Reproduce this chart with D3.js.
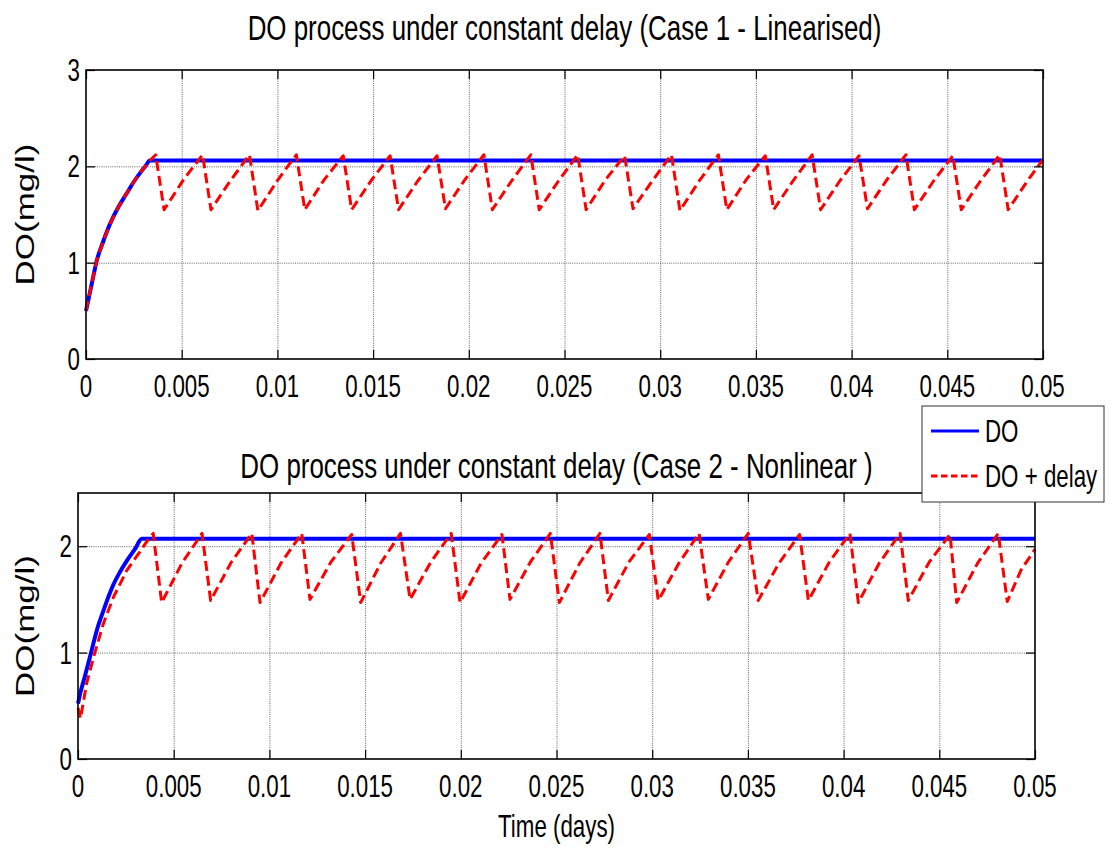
<!DOCTYPE html>
<html>
<head>
<meta charset="utf-8">
<script src="https://cdn.jsdelivr.net/npm/d3@7"></script>
<style>
  body { margin: 0; background: #fff; }
  text { font-family: "Liberation Sans", Arial, sans-serif; fill: #000; }
</style>
</head>
<body>
<div id="chart"></div>
<script>
// tick values and labels
const xTicks = [0, 0.005, 0.01, 0.015, 0.02, 0.025, 0.03, 0.035, 0.04, 0.045, 0.05];
const xTickLabels = ["0", "0.005", "0.01", "0.015", "0.02", "0.025", "0.03", "0.035", "0.04", "0.045", "0.05"];
const yTicks1 = [0, 1, 2, 3];
const yTickLabels1 = ["0", "1", "2", "3"];
const yTicks2 = [0, 1, 2];
const yTickLabels2 = ["0", "1", "2"];
const seriesNames = ["DO", "DO + delay"];
const titles = ["DO process under constant delay (Case 1 - Linearised)",
                "DO process under constant delay (Case 2 - Nonlinear )"];

// Case 1 - DO (blue)
const doTime1 = [0, 0.0003, 0.00056, 0.0009, 0.00125, 0.0017, 0.00213, 0.0025, 0.00282, 0.0031, 0.00334, 0.05];
const doValue1 = [0.5, 0.78, 1.02, 1.22, 1.40, 1.58, 1.72, 1.84, 1.93, 2.0, 2.06, 2.06];

// Case 1 - DO + delay (red): ramp, then peak / trough / mid-rise per cycle
const delayTime1 = [0, 0.0003, 0.00056, 0.0009, 0.00125, 0.0017, 0.00213, 0.0025, 0.00282, 0.0031, 0.00334,
  0.00364, 0.00408, 0.00509,
  0.00609, 0.00653, 0.00754,
  0.00854, 0.00898, 0.00999,
  0.01099, 0.01143, 0.01244,
  0.01344, 0.01388, 0.01489,
  0.01589, 0.01633, 0.01734,
  0.01834, 0.01878, 0.01979,
  0.02079, 0.02123, 0.02224,
  0.02324, 0.02368, 0.02469,
  0.02569, 0.02613, 0.02714,
  0.02814, 0.02858, 0.02959,
  0.03059, 0.03103, 0.03204,
  0.03304, 0.03348, 0.03449,
  0.03549, 0.03593, 0.03694,
  0.03794, 0.03838, 0.03939,
  0.04039, 0.04083, 0.04184,
  0.04284, 0.04328, 0.04429,
  0.04529, 0.04573, 0.04674,
  0.04774, 0.04818, 0.04919, 0.05];
const delayValue1 = [0.5, 0.78, 1.02, 1.22, 1.40, 1.58, 1.72, 1.84, 1.93, 2.0, 2.06,
  2.12, 1.55, 1.86,
  2.12, 1.55, 1.85,
  2.12, 1.54, 1.85,
  2.12, 1.55, 1.86,
  2.11, 1.55, 1.85,
  2.11, 1.55, 1.85,
  2.11, 1.56, 1.86,
  2.12, 1.55, 1.85,
  2.12, 1.55, 1.85,
  2.12, 1.55, 1.86,
  2.11, 1.56, 1.85,
  2.12, 1.54, 1.85,
  2.12, 1.55, 1.86,
  2.11, 1.55, 1.85,
  2.12, 1.55, 1.85,
  2.11, 1.56, 1.86,
  2.12, 1.55, 1.85,
  2.11, 1.55, 1.85,
  2.12, 1.55, 1.85, 2.07];

// Case 2 - DO (blue)
const doTime2 = [0, 0.00012, 0.00035, 0.00071, 0.001, 0.00132, 0.0016, 0.00185, 0.0022, 0.00254, 0.003, 0.00333, 0.05];
const doValue2 = [0.52, 0.62, 0.77, 1.02, 1.22, 1.39, 1.53, 1.64, 1.76, 1.86, 1.98, 2.07, 2.07];

// Case 2 - DO + delay (red)
const delayTime2 = [0, 0.00013, 0.00045, 0.00088, 0.00132, 0.00185, 0.00254, 0.00324, 0.00362,
  0.00393, 0.00437, 0.00543,
  0.00648, 0.00693, 0.00801,
  0.00908, 0.00951, 0.0106,
  0.01169, 0.01212, 0.01321,
  0.0143, 0.01477, 0.01581,
  0.01685, 0.01735, 0.01843,
  0.0195, 0.01996, 0.02106,
  0.02215, 0.02257, 0.02363,
  0.02468, 0.02515, 0.02621,
  0.02727, 0.02771, 0.02878,
  0.02985, 0.03032, 0.03139,
  0.03245, 0.03293, 0.03398,
  0.03502, 0.03554, 0.03662,
  0.0377, 0.03816, 0.03925,
  0.04033, 0.04077, 0.04186,
  0.04295, 0.04338, 0.04447,
  0.04556, 0.04591, 0.047,
  0.04808, 0.04855, 0.04928, 0.05];
const delayValue2 = [0.48, 0.38, 0.71, 1.0, 1.27, 1.52, 1.77, 1.95, 2.05,
  2.12, 1.47, 1.84,
  2.12, 1.49, 1.85,
  2.12, 1.47, 1.84,
  2.12, 1.50, 1.85,
  2.11, 1.47, 1.84,
  2.12, 1.50, 1.85,
  2.12, 1.47, 1.84,
  2.11, 1.50, 1.85,
  2.12, 1.47, 1.84,
  2.12, 1.49, 1.85,
  2.11, 1.49, 1.84,
  2.12, 1.50, 1.85,
  2.12, 1.49, 1.84,
  2.11, 1.49, 1.85,
  2.12, 1.47, 1.84,
  2.12, 1.49, 1.85,
  2.11, 1.47, 1.84,
  2.12, 1.48, 1.78, 1.97];

const W = 1110, H = 848;
const squash = 0.72;   // the source figure is compressed horizontally
const fontSize = 31;

const svg = d3.select("#chart").append("svg")
  .attr("width", W)
  .attr("height", H);

function sText(g, x, y, str, size, anchor) {
  return g.append("text")
    .attr("transform", `translate(${x},${y}) scale(${squash},1)`)
    .attr("text-anchor", anchor || "middle")
    .style("font-size", size + "px")
    .text(str);
}

const zip = (t, v) => t.map((d, i) => [d, v[i]]);

const panels = [
  { left: 86, right: 1043, top: 70, bottom: 359, yMax: 3, yTicks: yTicks1, yLabels: yTickLabels1,
    title: titles[0], titleY: 40, blue: zip(doTime1, doValue1), red: zip(delayTime1, delayValue1) },
  { left: 78, right: 1035, top: 493, bottom: 759, yMax: 2.5, yTicks: yTicks2, yLabels: yTickLabels2,
    title: titles[1], titleY: 478, blue: zip(doTime2, doValue2), red: zip(delayTime2, delayValue2) }
];

panels.forEach((p, pi) => {
  const x = d3.scaleLinear().domain([0, 0.05]).range([p.left, p.right]);
  const y = d3.scaleLinear().domain([0, p.yMax]).range([p.bottom, p.top]);
  const g = svg.append("g");
  const h = p.bottom - p.top, w = p.right - p.left;

  // grid (dotted)
  g.append("g")
    .attr("transform", `translate(0,${p.bottom})`)
    .call(d3.axisBottom(x).tickValues(xTicks.slice(1, -1)).tickSize(-h).tickFormat(""))
    .call(s => s.select(".domain").remove())
    .selectAll("line").attr("stroke", "#606060").attr("stroke-width", 1).attr("stroke-dasharray", "1,1.2");
  g.append("g")
    .attr("transform", `translate(${p.left},0)`)
    .call(d3.axisLeft(y).tickValues(p.yTicks.filter(v => v > 0 && v < p.yMax)).tickSize(-w).tickFormat(""))
    .call(s => s.select(".domain").remove())
    .selectAll("line").attr("stroke", "#606060").attr("stroke-width", 1).attr("stroke-dasharray", "1,1.2");

  // lines
  const lineBlue = d3.line().x(d => x(d[0])).y(d => y(d[1])).curve(d3.curveMonotoneX);
  const lineRed = d3.line().x(d => x(d[0])).y(d => y(d[1]));
  g.append("path").datum(p.blue)
    .attr("d", lineBlue)
    .attr("fill", "none").attr("stroke", "#0000ff").attr("stroke-width", 4);
  g.append("path").datum(p.red)
    .attr("d", lineRed)
    .attr("fill", "none").attr("stroke", "#ff0000").attr("stroke-width", 3)
    .attr("stroke-linejoin", "round")
    .attr("stroke-dasharray", "10,5");

  // inward ticks on all four sides
  const tick = 9;
  const axes = [
    [d3.axisBottom(x).tickValues(xTicks), `translate(0,${p.bottom})`],
    [d3.axisTop(x).tickValues(xTicks), `translate(0,${p.top})`],
    [d3.axisLeft(y).tickValues(p.yTicks), `translate(${p.left},0)`],
    [d3.axisRight(y).tickValues(p.yTicks), `translate(${p.right},0)`]
  ];
  axes.forEach(([ax, tr]) => {
    g.append("g").attr("transform", tr)
      .call(ax.tickSize(-tick).tickFormat(""))
      .call(s => s.select(".domain").remove())
      .selectAll("line").attr("stroke", "#000").attr("stroke-width", 1.2);
  });

  // box
  g.append("rect")
    .attr("x", p.left).attr("y", p.top).attr("width", w).attr("height", h)
    .attr("fill", "none").attr("stroke", "#000").attr("stroke-width", 1.6);

  // tick labels
  xTicks.forEach((v, i) => sText(g, x(v), p.bottom + 38, xTickLabels[i], fontSize));
  p.yTicks.forEach((v, i) => sText(g, p.left - 6, y(v) + 11, p.yLabels[i], fontSize, "end"));

  // title
  sText(g, (p.left + p.right) / 2, p.titleY, p.title, 36);

  // y label
  g.append("text")
    .attr("transform", `translate(34,${(p.top + p.bottom) / 2}) scale(${squash},1) rotate(-90)`)
    .attr("text-anchor", "middle")
    .style("font-size", "35px")
    .text("DO(mg/l)");

  if (pi === 1) {
    sText(g, (p.left + p.right) / 2, 837, "Time (days)", fontSize);
  }
});

// legend
const lg = svg.append("g");
lg.append("rect")
  .attr("x", 922).attr("y", 406).attr("width", 182).attr("height", 96)
  .attr("fill", "#fff").attr("stroke", "#333").attr("stroke-width", 1);
lg.append("line")
  .attr("x1", 931).attr("x2", 979).attr("y1", 431).attr("y2", 431)
  .attr("stroke", "#0000ff").attr("stroke-width", 3);
lg.append("line")
  .attr("x1", 931).attr("x2", 979).attr("y1", 476).attr("y2", 476)
  .attr("stroke", "#ff0000").attr("stroke-width", 3).attr("stroke-dasharray", "6.5,3.5");
sText(lg, 985, 442, seriesNames[0], fontSize, "start");
sText(lg, 985, 487, seriesNames[1], fontSize, "start");
</script>
</body>
</html>
